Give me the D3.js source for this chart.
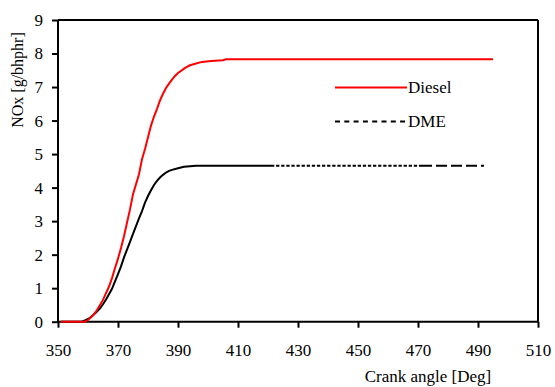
<!DOCTYPE html>
<html>
<head>
<meta charset="utf-8">
<script src="https://cdn.jsdelivr.net/npm/d3@7"></script>
<style>
html,body{margin:0;padding:0;background:#fff;}
svg text{font-family:"Liberation Serif","Times New Roman",serif;fill:#000;}
</style>
</head>
<body>
<svg id="chart" width="555" height="387"></svg>
<script>
// ---- data ----
const xTicks = [350, 370, 390, 410, 430, 450, 470, 490, 510];
const yTicks = [0, 1, 2, 3, 4, 5, 6, 7, 8, 9];
const seriesNames = ["Diesel", "DME"];
const xLabel = "Crank angle [Deg]";
const yLabel = "NOx [g/bhphr]";

const dieselAngle = [351,359,360,361,362,363,364,365,366,367,368,369,370,371,372,373,374,375,376,377,378,379,380,381,382,383,384,385,386,387,388,389,390,391,392,393,394,396,398,401,405,406,495];
const dieselNOx   = [0,0,0.05,0.13,0.22,0.35,0.5,0.65,0.85,1.05,1.3,1.6,1.88,2.2,2.55,2.95,3.35,3.8,4.1,4.4,4.85,5.15,5.5,5.85,6.12,6.35,6.6,6.8,6.97,7.1,7.22,7.33,7.42,7.48,7.55,7.6,7.65,7.7,7.75,7.78,7.8,7.83,7.83];

const dmeAngle = [351,358,359,360,361,362,363,364,365,366,367,368,369,370,371,372,373,374,375,376,377,378,379,380,381,382,383,384,385,386,387,388,390,392,396,421,471,492];
const dmeNOx   = [0,0,0.04,0.08,0.14,0.22,0.3,0.4,0.52,0.66,0.82,0.98,1.2,1.42,1.65,1.92,2.15,2.38,2.62,2.85,3.08,3.3,3.55,3.75,3.92,4.08,4.2,4.3,4.38,4.45,4.5,4.53,4.58,4.62,4.65,4.65,4.65,4.65];

// ---- layout ----
const svg = d3.select("#chart");
const L = 58, R = 538, T = 20, B = 321.7;
const x = d3.scaleLinear().domain([350, 510]).range([L, R]);
const y = d3.scaleLinear().domain([0, 9]).range([B, T]);

const diesel = dieselAngle.map((a, i) => ({a, v: dieselNOx[i]}));
const dme = dmeAngle.map((a, i) => ({a, v: dmeNOx[i]}));
const line = d3.line().x(d => x(d.a)).y(d => y(d.v));

// frame (top & right)
svg.append("line").attr("x1", L).attr("x2", R).attr("y1", T).attr("y2", T)
  .attr("stroke", "#000").attr("stroke-width", 2);
svg.append("line").attr("x1", R).attr("x2", R).attr("y1", T).attr("y2", B)
  .attr("stroke", "#000").attr("stroke-width", 2);

// axes
const xAxis = svg.append("g").attr("transform", `translate(0,${B})`)
  .call(d3.axisBottom(x).tickValues(xTicks).tickSize(6).tickPadding(16).tickFormat(d3.format("d")));
const yAxis = svg.append("g").attr("transform", `translate(${L},0)`)
  .call(d3.axisLeft(y).tickValues(yTicks).tickSize(6).tickPadding(9).tickFormat(d3.format("d")));
[xAxis, yAxis].forEach(g => {
  g.attr("font-family", null);
  g.select(".domain").attr("stroke", "#000").attr("stroke-width", 2);
  g.selectAll(".tick line").attr("stroke", "#000").attr("stroke-width", 2);
  g.selectAll(".tick text").attr("font-size", 17);
});
xAxis.select(".domain").attr("d", `M${L},0H${R}`);
yAxis.select(".domain").attr("d", `M0,${T}V${B}`);

// DME line: solid in dense region, fine dashes, then long dashes
const dmeSolid = dme.filter(d => d.a <= 421);
const dmeFine = dme.filter(d => d.a >= 421 && d.a <= 471);
const dmeLong = dme.filter(d => d.a >= 471);
svg.append("path").attr("d", line(dmeSolid)).attr("fill", "none").attr("stroke", "#000").attr("stroke-width", 2);
svg.append("path").attr("d", line(dmeFine)).attr("fill", "none").attr("stroke", "#000").attr("stroke-width", 2).attr("stroke-dasharray", "3.3,1.8");
svg.append("path").attr("d", line(dmeLong)).attr("fill", "none").attr("stroke", "#000").attr("stroke-width", 2).attr("stroke-dasharray", "11,4");

// Diesel line
svg.append("path").attr("d", line(diesel)).attr("fill", "none").attr("stroke", "#ff0000").attr("stroke-width", 2);

// legend
const leg = svg.append("g");
leg.append("line").attr("x1", 335).attr("x2", 407).attr("y1", 87.5).attr("y2", 87.5)
  .attr("stroke", "#ff0000").attr("stroke-width", 2);
leg.append("text").attr("x", 408).attr("y", 93).attr("font-size", 17).text(seriesNames[0]);
leg.append("line").attr("x1", 335).attr("x2", 407).attr("y1", 121.5).attr("y2", 121.5)
  .attr("stroke", "#000").attr("stroke-width", 2).attr("stroke-dasharray", "5,4.3");
leg.append("text").attr("x", 408).attr("y", 127).attr("font-size", 17).text(seriesNames[1]);

// axis titles
svg.append("text").attr("x", 428).attr("y", 382).attr("text-anchor", "middle")
  .attr("font-size", 17).text(xLabel);
svg.append("text").attr("transform", "translate(23,80) rotate(-90)").attr("text-anchor", "middle")
  .attr("font-size", 16).text(yLabel);
</script>
</body>
</html>
